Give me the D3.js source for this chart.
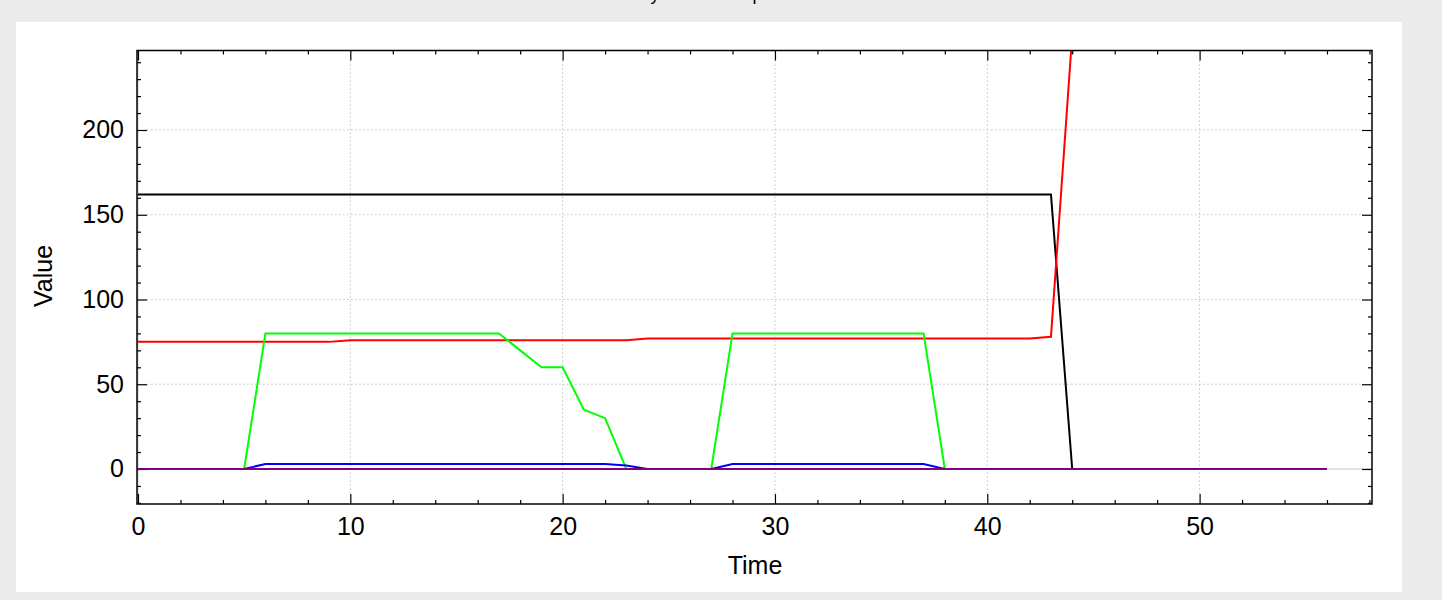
<!DOCTYPE html>
<html>
<head>
<meta charset="utf-8">
<script src="https://cdn.jsdelivr.net/npm/d3@7"></script>
<style>
body { margin: 0; background: #ebebeb; }
svg { display: block; font-family: "Liberation Sans", Arial, sans-serif; }
</style>
</head>
<body>
<svg id="chart" width="1442" height="600"></svg>
<script>
const title = "Dynamic Group";

const time = [0, 1, 2, 3, 4, 5, 6, 7, 8, 9, 10, 11, 12, 13, 14, 15, 16, 17, 18, 19,
    20, 21, 22, 23, 24, 25, 26, 27, 28, 29, 30, 31, 32, 33, 34, 35, 36, 37, 38, 39,
    40, 41, 42, 43, 44, 45, 46, 47, 48, 49, 50, 51, 52, 53, 54, 55, 56];

const blackValues = [162, 162, 162, 162, 162, 162, 162, 162, 162, 162, 162, 162, 162, 162, 162, 162, 162, 162, 162, 162,
    162, 162, 162, 162, 162, 162, 162, 162, 162, 162, 162, 162, 162, 162, 162, 162, 162, 162, 162, 162,
    162, 162, 162, 162, 0, 0, 0, 0, 0, 0, 0, 0, 0, 0, 0, 0, 0];

const redValues = [75, 75, 75, 75, 75, 75, 75, 75, 75, 75, 76, 76, 76, 76, 76, 76, 76, 76, 76, 76,
    76, 76, 76, 76, 77, 77, 77, 77, 77, 77, 77, 77, 77, 77, 77, 77, 77, 77, 77, 77,
    77, 77, 77, 78, 256];

const greenValues = [0, 0, 0, 0, 0, 0, 80, 80, 80, 80, 80, 80, 80, 80, 80, 80, 80, 80, 70, 60,
    60, 35, 30, 0, 0, 0, 0, 0, 80, 80, 80, 80, 80, 80, 80, 80, 80, 80, 0, 0,
    0, 0, 0, 0, 0, 0, 0, 0, 0, 0, 0, 0, 0, 0, 0, 0, 0];

const blueValues = [0, 0, 0, 0, 0, 0, 3, 3, 3, 3, 3, 3, 3, 3, 3, 3, 3, 3, 3, 3,
    3, 3, 3, 2, 0, 0, 0, 0, 3, 3, 3, 3, 3, 3, 3, 3, 3, 3, 0, 0,
    0, 0, 0, 0, 0, 0, 0, 0, 0, 0, 0, 0, 0, 0, 0, 0, 0];

const purpleValues = [0, 0, 0, 0, 0, 0, 0, 0, 0, 0, 0, 0, 0, 0, 0, 0, 0, 0, 0, 0,
    0, 0, 0, 0, 0, 0, 0, 0, 0, 0, 0, 0, 0, 0, 0, 0, 0, 0, 0, 0,
    0, 0, 0, 0, 0, 0, 0, 0, 0, 0, 0, 0, 0, 0, 0, 0, 0];

const xMajorTicks = [0, 10, 20, 30, 40, 50];
const xMinorTicks = [2, 4, 6, 8, 12, 14, 16, 18, 22, 24, 26, 28, 32, 34, 36, 38, 42, 44, 46, 48, 52, 54, 56, 58];
const yMajorTicks = [0, 50, 100, 150, 200];
const yMinorTicks = [-20, -10, 10, 20, 30, 40, 60, 70, 80, 90, 110, 120, 130, 140, 160, 170, 180, 190, 210, 220, 230, 240];

const series = [
    {name: "black", values: blackValues, color: "#000000"},
    {name: "red", values: redValues, color: "#ff0000"},
    {name: "green", values: greenValues, color: "#00ff00"},
    {name: "blue", values: blueValues, color: "#0000ff"},
    {name: "purple", values: purpleValues, color: "#800080"}
];

const svg = d3.select("#chart");

const plot = {left: 137, top: 50.5, right: 1372, bottom: 504};

// white panel behind the chart
svg.append("rect")
    .attr("x", 16).attr("y", 22)
    .attr("width", 1386).attr("height", 570)
    .attr("fill", "#ffffff");

svg.append("text")
    .attr("x", 700).attr("y", 0)
    .attr("text-anchor", "middle")
    .attr("font-size", 18)
    .attr("fill", "#000")
    .text(title);

const x = d3.scaleLinear().domain([-0.047, 58.12]).range([plot.left, plot.right]);
const y = d3.scaleLinear().domain([-20.65, 246.9]).range([plot.bottom, plot.top]);

svg.append("clipPath").attr("id", "clip")
    .append("rect")
    .attr("x", plot.left).attr("y", plot.top)
    .attr("width", plot.right - plot.left).attr("height", plot.bottom - plot.top);

// grid
const grid = svg.append("g");
grid.selectAll(".vgrid")
    .data(xMajorTicks.filter(d => d > 0))
    .enter().append("line")
    .attr("x1", d => x(d)).attr("x2", d => x(d))
    .attr("y1", plot.top + 10).attr("y2", plot.bottom - 10)
    .attr("stroke", "#c4c4c4").attr("stroke-dasharray", "1.5,2.5");
grid.selectAll(".hgrid")
    .data(yMajorTicks.filter(d => d > 0))
    .enter().append("line")
    .attr("x1", plot.left + 10).attr("x2", plot.right - 10)
    .attr("y1", d => y(d)).attr("y2", d => y(d))
    .attr("stroke", "#c4c4c4").attr("stroke-dasharray", "1.5,2.5");
grid.append("line")
    .attr("x1", plot.left).attr("x2", plot.right)
    .attr("y1", y(0)).attr("y2", y(0))
    .attr("stroke", "#c4c4c4");
grid.append("line")
    .attr("x1", x(0)).attr("x2", x(0))
    .attr("y1", plot.top).attr("y2", plot.bottom)
    .attr("stroke", "#c4c4c4");

// axes
function styleAxis(g) {
    g.select(".domain").remove();
    g.selectAll(".tick line").attr("stroke", "#000").attr("stroke-width", 1.2);
    g.selectAll(".tick text").attr("font-size", 25).attr("fill", "#000")
        .attr("font-family", "'Liberation Sans', Arial, sans-serif");
}

svg.append("g").attr("transform", `translate(0,${plot.bottom})`)
    .call(d3.axisBottom(x).tickValues(xMajorTicks).tickSizeInner(-10).tickSizeOuter(0).tickPadding(13))
    .call(styleAxis);
svg.append("g").attr("transform", `translate(0,${plot.bottom})`)
    .call(d3.axisBottom(x).tickValues(xMinorTicks).tickSizeInner(-4).tickSizeOuter(0).tickFormat(""))
    .call(styleAxis);
svg.append("g").attr("transform", `translate(0,${plot.top})`)
    .call(d3.axisTop(x).tickValues(xMajorTicks).tickSizeInner(-10).tickSizeOuter(0).tickFormat(""))
    .call(styleAxis);
svg.append("g").attr("transform", `translate(0,${plot.top})`)
    .call(d3.axisTop(x).tickValues(xMinorTicks).tickSizeInner(-4).tickSizeOuter(0).tickFormat(""))
    .call(styleAxis);

svg.append("g").attr("transform", `translate(${plot.left},0)`)
    .call(d3.axisLeft(y).tickValues(yMajorTicks).tickSizeInner(-10).tickSizeOuter(0).tickPadding(13))
    .call(styleAxis);
svg.append("g").attr("transform", `translate(${plot.left},0)`)
    .call(d3.axisLeft(y).tickValues(yMinorTicks).tickSizeInner(-4).tickSizeOuter(0).tickFormat(""))
    .call(styleAxis);
svg.append("g").attr("transform", `translate(${plot.right},0)`)
    .call(d3.axisRight(y).tickValues(yMajorTicks).tickSizeInner(-10).tickSizeOuter(0).tickFormat(""))
    .call(styleAxis);
svg.append("g").attr("transform", `translate(${plot.right},0)`)
    .call(d3.axisRight(y).tickValues(yMinorTicks).tickSizeInner(-4).tickSizeOuter(0).tickFormat(""))
    .call(styleAxis);

// lines
const line = d3.line()
    .x((d, i) => x(time[i]))
    .y(d => y(d));

svg.append("g").attr("clip-path", "url(#clip)")
    .selectAll("path")
    .data(series)
    .enter().append("path")
    .attr("d", d => line(d.values))
    .attr("fill", "none")
    .attr("stroke", d => d.color)
    .attr("stroke-width", 2)
    .attr("stroke-linejoin", "miter");

// frame
svg.append("rect")
    .attr("x", plot.left).attr("y", plot.top)
    .attr("width", plot.right - plot.left).attr("height", plot.bottom - plot.top)
    .attr("fill", "none").attr("stroke", "#000").attr("stroke-width", 1.5);

// axis titles
svg.append("text")
    .attr("x", 755).attr("y", 574)
    .attr("text-anchor", "middle")
    .attr("font-size", 25)
    .text("Time");
svg.append("text")
    .attr("transform", "translate(52,276) rotate(-90)")
    .attr("text-anchor", "middle")
    .attr("font-size", 25)
    .text("Value");
</script>
</body>
</html>
